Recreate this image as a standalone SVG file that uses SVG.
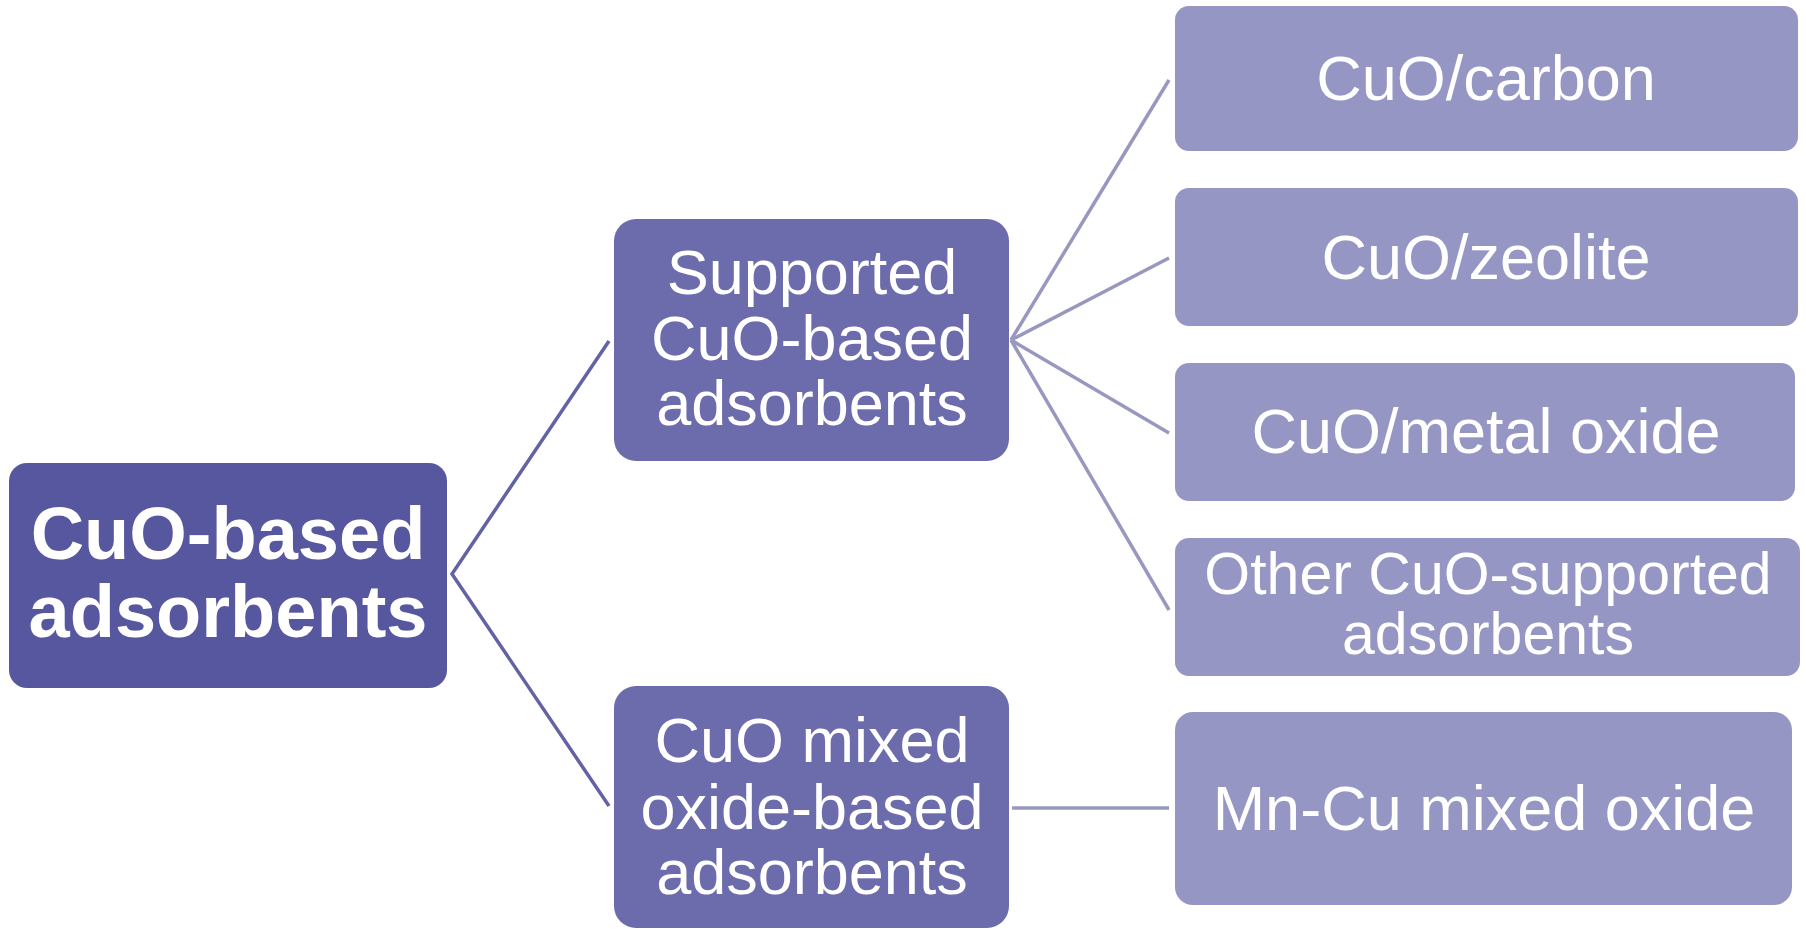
<svg xmlns="http://www.w3.org/2000/svg" width="1806" height="929" viewBox="0 0 1806 929">
<style>
.t{font-family:"Liberation Sans",Arial,sans-serif;fill:#fff;text-anchor:middle}
.root{fill:#5757a0}
.mid{fill:#6c6bab}
.leaf{fill:#9696c4}
.c1{stroke:#6362a5;stroke-width:3.5;fill:none}
.c2{stroke:#9898bf;stroke-width:3.5;fill:none}
</style>
<rect width="1806" height="929" fill="#fff"/>
<g id="connectors">
<polyline class="c1" points="609,341 452,574 609,806"/>
<line class="c2" x1="1011" y1="340" x2="1169" y2="80"/>
<line class="c2" x1="1011" y1="340" x2="1169" y2="258"/>
<line class="c2" x1="1011" y1="340" x2="1169" y2="433"/>
<line class="c2" x1="1011" y1="340" x2="1169" y2="610"/>
<line class="c2" x1="1012" y1="808" x2="1169" y2="808"/>
</g>
<g id="n-root">
<rect class="root" x="9" y="463" width="438" height="225" rx="18"/>
<text class="t" x="228" y="559" font-size="74" font-weight="bold">CuO-based</text>
<text class="t" x="228" y="637" font-size="74" font-weight="bold">adsorbents</text>
</g>
<g id="n-supported">
<rect class="mid" x="614" y="219" width="395" height="242" rx="22"/>
<text class="t" x="812" y="294" font-size="63">Supported</text>
<text class="t" x="812" y="360" font-size="63">CuO-based</text>
<text class="t" x="812" y="425" font-size="63">adsorbents</text>
</g>
<g id="n-mixed">
<rect class="mid" x="614" y="686" width="395" height="242" rx="22"/>
<text class="t" x="812" y="762" font-size="63">CuO mixed</text>
<text class="t" x="812" y="829" font-size="63">oxide-based</text>
<text class="t" x="812" y="894" font-size="63">adsorbents</text>
</g>
<g id="n-carbon">
<rect class="leaf" x="1175" y="6" width="623" height="145" rx="14"/>
<text class="t" x="1486" y="100" font-size="63">CuO/carbon</text>
</g>
<g id="n-zeolite">
<rect class="leaf" x="1175" y="188" width="623" height="138" rx="14"/>
<text class="t" x="1486" y="279" font-size="63">CuO/zeolite</text>
</g>
<g id="n-metal">
<rect class="leaf" x="1175" y="363" width="620" height="138" rx="14"/>
<text class="t" x="1486" y="453" font-size="63">CuO/metal oxide</text>
</g>
<g id="n-other">
<rect class="leaf" x="1175" y="538" width="625" height="138" rx="14"/>
<text class="t" x="1488" y="594" font-size="59">Other CuO-supported</text>
<text class="t" x="1488" y="654" font-size="59">adsorbents</text>
</g>
<g id="n-mncu">
<rect class="leaf" x="1175" y="712" width="617" height="193" rx="18"/>
<text class="t" x="1484" y="830" font-size="63">Mn-Cu mixed oxide</text>
</g>
</svg>
